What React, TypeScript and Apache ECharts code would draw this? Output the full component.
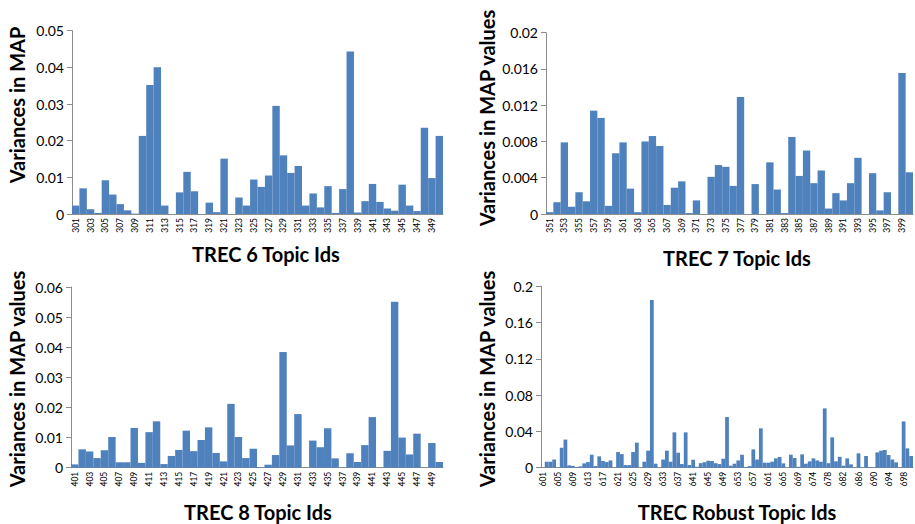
import React, { useEffect, useRef } from "react";
import * as echarts from "echarts";

const range = (a: number, b: number) => {
  const out: string[] = [];
  for (let i = a; i <= b; i++) out.push(String(i));
  return out;
};

const trec6Topics = range(301, 350);
const trec7Topics = range(351, 400);
const trec8Topics = range(401, 450);
const robustTopics = range(601, 700).filter((t) => t !== "672");

const trec6Values = [
  0.0023, 0.007, 0.0013, 0.0003, 0.0092, 0.0053, 0.0027, 0.001, 0.0001, 0.0213,
  0.0352, 0.04, 0.0023, 0, 0.0059, 0.0115, 0.0062, 0, 0.0031, 0.0005,
  0.0151, 0, 0.0045, 0.0023, 0.0094, 0.0074, 0.0105, 0.0295, 0.016, 0.0112,
  0.0131, 0.0023, 0.0056, 0.0018, 0.0076, 0.0003, 0.0068, 0.0443, 0.0004, 0.0035,
  0.0082, 0.0033, 0.0015, 0.0009, 0.008, 0.0023, 0.0008, 0.0235, 0.0098, 0.0213,
];

const trec7Values = [
  0.0002, 0.0013, 0.0079, 0.0008, 0.0024, 0.0014, 0.0114, 0.0106, 0.0009, 0.0067,
  0.0079, 0.0028, 0.0002, 0.008, 0.0086, 0.0075, 0.001, 0.0029, 0.0036, 0.0001,
  0.0015, 0, 0.0041, 0.0054, 0.0052, 0.0031, 0.0129, 0, 0.0033, 0,
  0.0057, 0.0027, 0.0001, 0.0085, 0.0042, 0.007, 0.0034, 0.0048, 0.0006, 0.0023,
  0.0015, 0.0034, 0.0062, 0, 0.0045, 0.0004, 0.0024, 0, 0.01555, 0.0046,
];

const trec8Values = [
  0.0011, 0.0061, 0.0054, 0.0032, 0.0058, 0.0102, 0.0018, 0.0018, 0.0132, 0.0016,
  0.0118, 0.0154, 0.0012, 0.0039, 0.0059, 0.0123, 0.0055, 0.0092, 0.0134, 0.0049,
  0.0021, 0.0212, 0.0102, 0.0032, 0.0063, 0.0002, 0.001, 0.0042, 0.0384, 0.0074,
  0.0178, 0, 0.009, 0.0068, 0.0131, 0.0031, 0, 0.0048, 0.0019, 0.0075,
  0.0168, 0, 0.0056, 0.0551, 0.01, 0.0044, 0.0113, 0, 0.0082, 0.0019,
];

const robustValues = [
  0, 0.0066, 0.0066, 0.009, 0, 0.022, 0.031, 0.0026, 0.002, 0.0005,
  0.0015, 0.0048, 0.0062, 0.0143, 0.0018, 0.0125, 0.0074, 0.0062, 0.008, 0,
  0.0173, 0.015, 0.0029, 0.0029, 0.0173, 0.0276, 0, 0.0066, 0.0188, 0.185,
  0.0044, 0, 0.009, 0.0188, 0.0066, 0.039, 0.0165, 0.004, 0.039, 0.003,
  0.0088, 0.001, 0.005, 0.006, 0.0077, 0.0074, 0.005, 0.004, 0.0099, 0.0559,
  0.0022, 0.0044, 0.008, 0.0143, 0.0007, 0.0018, 0.0202, 0.009, 0.0434, 0.0055,
  0.0055, 0.0066, 0.0103, 0.0118, 0.0048, 0, 0.0143, 0.0107, 0.001, 0.0147,
  0.0044, 0.007, 0.0103, 0.008, 0.0066, 0.0654, 0.005, 0.0335, 0.007, 0.012,
  0.0022, 0.0103, 0.0037, 0, 0.0158, 0, 0.0129, 0.0007, 0, 0.0169,
  0.0188, 0.0195, 0.014, 0.009, 0.0059, 0, 0.051, 0.0213, 0.0129,
];

const yTitles = ["Variances in MAP", "Variances in MAP values", "Variances in MAP values", "Variances in MAP values"];
const xTitles = ["TREC 6 Topic Ids", "TREC 7 Topic Ids", "TREC 8 Topic Ids", "TREC Robust Topic Ids"];
const yMax = [0.05, 0.02, 0.06, 0.2];
const yStep = [0.01, 0.004, 0.01, 0.04];
const labelEvery = [1, 1, 1, 3];

const FONT = "Lato";
const BAR = "#4F81BD";
const AXIS = "#8c8c8c";

export default function App() {
  const ref = useRef<HTMLDivElement>(null);
  useEffect(() => {
    document.body.style.margin = "0";
    if (!ref.current) return;
    const chart = echarts.init(ref.current, null, { renderer: "svg" });

    const grids = [
      { left: 72, top: 30.7, width: 371, height: 183.3 },
      { left: 546, top: 32.7, width: 367, height: 181.3 },
      { left: 71, top: 287, width: 372, height: 180.7 },
      { left: 541, top: 286.3, width: 372, height: 181.4 },
    ];
    const cats = [trec6Topics, trec7Topics, trec8Topics, robustTopics];
    const vals = [trec6Values, trec7Values, trec8Values, robustValues];

    const yTitlePos = [
      [17, 105],
      [487, 118],
      [17, 379],
      [487, 379],
    ];
    const xTitlePos = [
      [266, 254],
      [737, 258],
      [258, 512],
      [737, 512],
    ];

    const graphic: any[] = [];
    for (let i = 0; i < 4; i++) {
      graphic.push({
        type: "text",
        x: yTitlePos[i][0],
        y: yTitlePos[i][1],
        rotation: Math.PI / 2,
        style: {
          text: yTitles[i],
          font: `bold 20px ${FONT}`,
          fill: "#000",
          textAlign: "center",
          textVerticalAlign: "middle",
        },
      });
      graphic.push({
        type: "text",
        x: xTitlePos[i][0],
        y: xTitlePos[i][1],
        style: {
          text: xTitles[i],
          font: `bold 20px ${FONT}`,
          fill: "#000",
          textAlign: "center",
          textVerticalAlign: "middle",
        },
      });
    }

    chart.setOption({
      animation: false,
      grid: grids.map((g) => ({ ...g, containLabel: false })),
      xAxis: cats.map((c, i) => ({
        type: "category",
        gridIndex: i,
        data: c,
        axisLine: { show: true, lineStyle: { color: AXIS, width: 1 } },
        axisTick: { show: false },
        axisLabel: {
          rotate: 90,
          interval: labelEvery[i],
          fontFamily: FONT,
          fontSize: 8.5,
          color: "#000",
          margin: 4,
        },
      })),
      yAxis: cats.map((_, i) => ({
        type: "value",
        gridIndex: i,
        min: 0,
        max: yMax[i],
        interval: yStep[i],
        splitLine: { show: false },
        axisLine: { show: true, lineStyle: { color: AXIS, width: 1 } },
        axisTick: { show: true, length: 5, inside: false, lineStyle: { color: AXIS } },
        axisLabel: {
          fontFamily: FONT,
          fontSize: 14,
          color: "#000",
          margin: 8,
        },
      })),
      series: vals.map((v, i) => ({
        type: "bar",
        xAxisIndex: i,
        yAxisIndex: i,
        data: v,
        barCategoryGap: "0%",
        itemStyle: { color: BAR },
      })),
      graphic,
    });

    return () => chart.dispose();
  }, []);

  return <div ref={ref} style={{ width: 915, height: 524 }} />;
}
